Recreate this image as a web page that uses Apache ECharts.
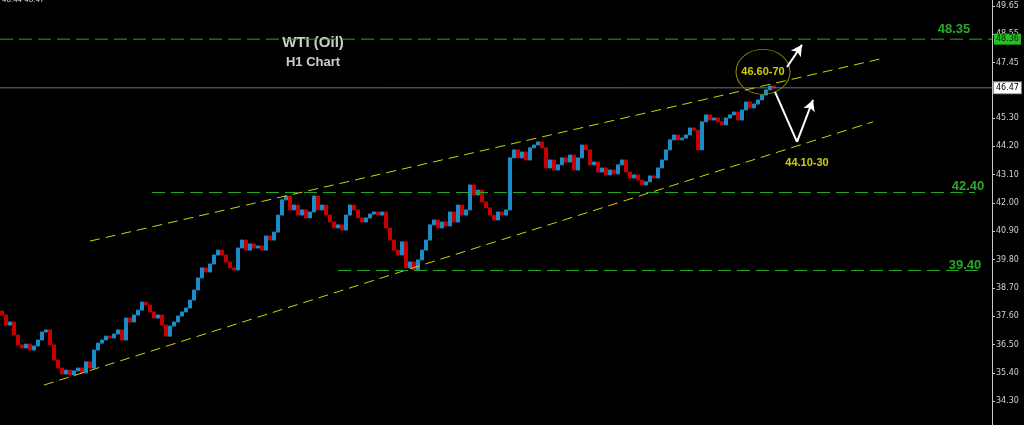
<!DOCTYPE html>
<html><head><meta charset="utf-8">
<script src="https://cdn.jsdelivr.net/npm/echarts@6/dist/echarts.min.js"></script>
<style>html,body{margin:0;padding:0;background:#000;}#c{width:1024px;height:425px;}</style>
</head><body><div id="c"></div>
<script>
// ---- data ----
const firstOpen = 37.80;
const closes = [37.65,37.26,37.38,36.87,36.49,36.37,36.52,36.29,36.45,36.68,36.99,37.07,36.49,35.90,35.59,35.36,35.51,35.32,35.48,35.59,
35.40,35.83,35.59,36.29,36.56,36.68,36.83,36.76,36.91,37.07,36.68,37.53,37.38,37.65,37.84,38.15,38.04,37.77,37.53,37.65,
37.26,36.83,37.22,37.38,37.61,37.77,37.92,38.23,38.62,39.09,39.48,39.32,39.63,39.98,40.17,39.98,39.71,39.48,39.40,40.25,
40.56,40.17,40.41,40.25,40.33,40.17,40.72,40.56,40.87,41.53,42.12,42.27,41.73,41.92,41.53,41.73,41.42,41.65,42.27,41.73,
41.92,41.53,41.26,41.03,41.15,40.95,41.53,41.92,41.73,41.42,41.26,41.42,41.57,41.65,41.53,41.65,41.03,40.56,40.17,39.98,
40.49,39.48,39.71,39.40,39.79,40.17,40.56,41.15,41.34,41.03,41.26,41.11,41.65,41.26,41.92,41.53,41.73,42.70,42.31,42.50,
42.04,41.81,41.53,41.34,41.65,41.53,41.73,43.75,44.06,43.75,43.98,43.67,44.14,44.25,44.37,44.14,43.36,43.67,43.28,43.48,
43.75,43.59,43.86,43.28,43.75,44.25,44.06,43.48,43.59,43.20,43.36,43.09,43.28,43.13,43.48,43.67,43.20,42.97,43.09,42.89,
42.70,42.82,43.05,42.97,43.36,43.67,44.06,44.45,44.64,44.45,44.52,44.64,44.91,44.83,44.06,45.15,45.42,45.22,45.30,45.15,
45.03,45.30,45.42,45.53,45.22,45.61,45.92,45.69,45.84,46.00,46.19,46.39,46.54,46.47];
const totalSlots = 248;
const yTickLabels = [34.30,35.40,36.50,37.60,38.70,39.80,40.90,42.00,43.10,44.20,45.30,46.35,47.45,48.55,49.65];
const resistanceLevel = 48.36;
const currentPrice = 46.47;
// channel lines: [startIndex, startPrice, endIndex, endPrice]
const upperChannel = [22, 40.52, 219.5, 47.59];
const lowerChannel = [10.5, 34.93, 217.75, 45.15];
// partial support levels: [startIndex, endIndex, price]
const level4240 = [37.5, 243.25, 42.40];
const level3940 = [84, 244, 39.40];
// arrows (index, price)
const arrowUp = [[196.25, 47.28], [200, 48.14]];
const arrowDown = [[193.25, 46.31], [198.75, 44.37], [202.75, 46.00]];
// text annotations: text, index, price
const greenLabels = [['48.35', 238, 48.72], ['42.40', 241.5, 42.66], ['39.40', 240.75, 39.59]];
const titleLabels = [['WTI (Oil)', 77.75, 48.21, 15], ['H1 Chart', 77.75, 47.47, 13]];
const targetUp = ['46.60-70', 190.25, 47.09];
const targetDown = ['44.10-30', 201.25, 43.55];

// ---- build ----
const cats = [];
for (let i = 0; i < totalSlots; i++) cats.push(String(i));
const candles = closes.map((c, i) => {
  const o = i === 0 ? firstOpen : closes[i - 1];
  return [o, c, Math.min(o, c), Math.max(o, c)];
});

const yellowLine = {color: '#d2d200', width: 1, type: [10, 6]};
const greenDash = {color: '#22a822', width: 1, type: [13, 6]};
const white = {color: '#ffffff', width: 2, type: 'solid'};
const xLo = -0.5, xHi = totalSlots - 0.5;

function levelSeries(price, lineStyle, bg, fg, border) {
  return {
    type: 'line', xAxisIndex: 1, silent: true, symbol: 'none', animation: false,
    data: [[xLo, price], [xHi, price]],
    lineStyle: lineStyle, itemStyle: {color: lineStyle.color},
    endLabel: {show: true, distance: 2, formatter: price.toFixed(2), backgroundColor: bg, color: fg,
      borderColor: border, borderWidth: border ? 1 : 0, fontFamily: 'DejaVu Sans', fontSize: 8, padding: [2, 2, 1, 2]}
  };
}

const chart = echarts.init(document.getElementById('c'));
chart.setOption({
  backgroundColor: '#000000',
  animation: false,
  grid: {left: 0, right: 32, top: 0, bottom: 0},
  xAxis: [
    {type: 'category', data: cats, show: false, boundaryGap: true},
    {type: 'value', min: xLo, max: xHi, show: false}
  ],
  yAxis: {
    type: 'value', position: 'right', min: 33.38, max: 49.88, scale: true,
    splitLine: {show: false},
    axisLine: {show: true, onZero: false, lineStyle: {color: '#c8c8c8', width: 1}},
    axisTick: {show: true, length: 3, lineStyle: {color: '#c8c8c8'}, customValues: yTickLabels},
    axisLabel: {show: true, color: '#d0d0d0', fontFamily: 'DejaVu Sans', fontSize: 8, margin: 4,
      customValues: yTickLabels, formatter: v => v.toFixed(2)}
  },
  graphic: [{type: 'text', left: 2, top: -3, style: {text: '46.44 46.47', fill: '#ddd', font: '7px DejaVu Sans'}}],
  series: [
    levelSeries(resistanceLevel, {color: '#22a822', width: 1, type: [13, 6]}, '#22c022', '#002200', null),
    levelSeries(currentPrice, {color: '#6a7688', width: 1, type: 'solid'}, '#ffffff', '#000000', '#888888'),
    {
      type: 'candlestick', data: candles, barWidth: '75%',
      itemStyle: {color: '#1b8cc8', color0: '#c40000', borderColor: '#1b8cc8', borderColor0: '#c40000', borderWidth: 1}
    },
    {
      type: 'scatter', xAxisIndex: 1, symbolSize: 0, silent: true,
      data: greenLabels.map(g => ({value: [g[1], g[2]], name: g[0],
          label: {show: true, position: 'inside', formatter: g[0], color: '#32d232', fontWeight: 'bold', fontSize: 13, fontFamily: 'Liberation Sans'}}))
        .concat(titleLabels.map(t => ({value: [t[1], t[2]], name: t[0],
          label: {show: true, position: 'inside', formatter: t[0], color: '#ffffff', fontWeight: 'bold', fontSize: t[3], fontFamily: 'Liberation Sans'}})))
        .concat([
          {value: [targetUp[1], targetUp[2]], name: targetUp[0], symbol: 'circle', symbolSize: [54, 45],
           itemStyle: {color: 'rgba(0,0,0,0)', borderColor: '#b4a400', borderWidth: 1},
           label: {show: true, position: 'inside', formatter: targetUp[0], color: '#ffff00', fontWeight: 'bold', fontSize: 11, fontFamily: 'Liberation Sans'}},
          {value: [targetDown[1], targetDown[2]], name: targetDown[0],
           label: {show: true, position: 'inside', formatter: targetDown[0], color: '#ffff00', fontWeight: 'bold', fontSize: 11, fontFamily: 'Liberation Sans'}}
        ]),
      markLine: {
        silent: true, animation: false, symbol: ['none', 'none'], label: {show: false},
        data: [
          [{coord: [upperChannel[0], upperChannel[1]], lineStyle: yellowLine}, {coord: [upperChannel[2], upperChannel[3]]}],
          [{coord: [lowerChannel[0], lowerChannel[1]], lineStyle: yellowLine}, {coord: [lowerChannel[2], lowerChannel[3]]}],
          [{coord: [level4240[0], level4240[2]], lineStyle: greenDash}, {coord: [level4240[1], level4240[2]]}],
          [{coord: [level3940[0], level3940[2]], lineStyle: greenDash}, {coord: [level3940[1], level3940[2]]}],
          [{coord: arrowUp[0], lineStyle: white, symbol: 'none'}, {coord: arrowUp[1], symbol: 'arrow', symbolSize: [9, 11]}],
          [{coord: arrowDown[0], lineStyle: white, symbol: 'none'}, {coord: arrowDown[1], symbol: 'none'}],
          [{coord: arrowDown[1], lineStyle: white, symbol: 'none'}, {coord: arrowDown[2], symbol: 'arrow', symbolSize: [9, 11]}]
        ]
      }
    }
  ]
});
</script>
</body></html>
